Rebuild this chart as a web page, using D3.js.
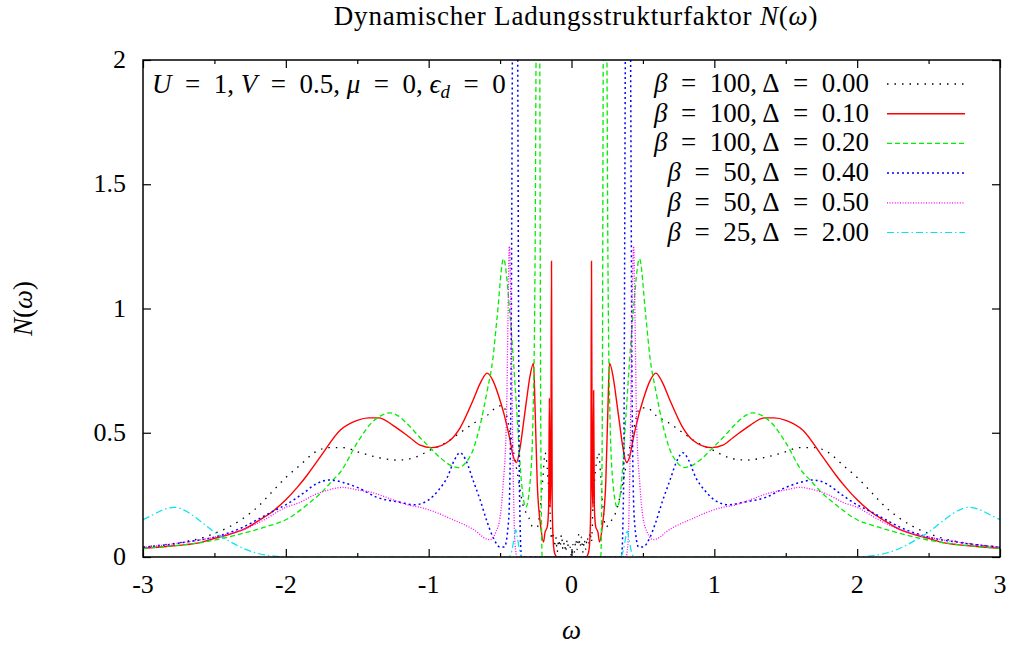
<!DOCTYPE html>
<html lang="en">
<head>
    <meta charset="UTF-8">
    <title>Dynamischer Ladungsstrukturfaktor</title>
    <style>
        body, html {
            margin: 0;
            padding: 0;
            background: #fff;
            overflow: hidden;
        }
    </style>
</head>
<body>
<div id="chart"></div>

<script src="https://cdn.jsdelivr.net/npm/d3@7"></script>
<script>
    // x axis / y axis
    const xDomain = [-3, 3];
    const yDomain = [0, 2];
    const xMajor = [-3, -2, -1, 0, 1, 2, 3];
    const xMinor = [-2.5, -1.5, -0.5, 0.5, 1.5, 2.5];
    const yMajor = [0, 0.5, 1, 1.5, 2];
    const yLabels = ["0", "0.5", "1", "1.5", "2"];

    // legend entries: beta, delta
    const betas = [100, 100, 100, 50, 50, 25];
    const deltas = ["0.00", "0.10", "0.20", "0.40", "0.50", "2.00"];

    // [omega, N(omega)]
    const d000 = [[-3.0,0.04],[-2.9,0.046],[-2.8,0.053],[-2.7,0.062],[-2.6,0.075],[-2.5,0.095],[-2.4,0.12],[-2.3,0.155],[-2.2,0.2],[-2.1,0.26],[-2.0,0.32],[-1.9,0.37],[-1.8,0.42],[-1.7,0.44],[-1.6,0.44],[-1.48,0.42],[-1.35,0.4],[-1.22,0.39],[-1.1,0.4],[-0.99,0.43],[-0.88,0.46],[-0.78,0.5],[-0.68,0.54],[-0.59,0.57],[-0.53,0.6],[-0.48,0.61],[-0.43,0.5],[-0.38,0.34],[-0.34,0.21],[-0.3,0.16],[-0.27,0.12],[-0.24,0.12],[-0.22,0.19],[-0.2,0.32],[-0.185,0.42],[-0.17,0.36],[-0.16,0.28],[-0.15,0.18],[-0.14,0.07],[-0.13,0.1],[-0.12,0.04],[-0.11,0.08],[-0.1,0.02],[-0.09,0.07],[-0.08,0.04],[-0.07,0.09],[-0.06,0.03],[-0.05,0.06],[-0.04,0.02],[-0.03,0.07],[-0.02,0.03],[-0.01,0.04],[0,0],[0.01,0.05],[0.02,0.02],[0.03,0.07],[0.04,0.03],[0.05,0.09],[0.06,0.04],[0.07,0.08],[0.08,0.02],[0.09,0.07],[0.1,0.03],[0.11,0.08],[0.12,0.05],[0.13,0.1],[0.14,0.06],[0.15,0.2],[0.16,0.3],[0.175,0.38],[0.19,0.42],[0.205,0.32],[0.22,0.2],[0.24,0.12],[0.27,0.14],[0.31,0.18],[0.35,0.27],[0.38,0.36],[0.43,0.5],[0.48,0.6],[0.53,0.6],[0.59,0.57],[0.68,0.54],[0.78,0.5],[0.88,0.46],[0.99,0.43],[1.1,0.4],[1.22,0.39],[1.35,0.4],[1.48,0.42],[1.6,0.44],[1.7,0.44],[1.8,0.42],[1.9,0.37],[2.0,0.32],[2.1,0.26],[2.2,0.2],[2.3,0.155],[2.4,0.12],[2.5,0.095],[2.6,0.075],[2.7,0.062],[2.8,0.053],[2.9,0.046],[3.0,0.04]];

    const d010 = [[-3.0,0.035],[-2.9,0.039],[-2.8,0.044],[-2.7,0.05],[-2.6,0.058],[-2.5,0.075],[-2.4,0.09],[-2.3,0.11],[-2.18,0.15],[-2.1,0.18],[-2.0,0.23],[-1.92,0.28],[-1.85,0.33],[-1.75,0.41],[-1.62,0.51],[-1.5,0.55],[-1.42,0.56],[-1.35,0.56],[-1.25,0.53],[-1.13,0.48],[-1.06,0.45],[-0.98,0.44],[-0.85,0.47],[-0.78,0.52],[-0.69,0.63],[-0.63,0.71],[-0.59,0.74],[-0.55,0.71],[-0.5,0.63],[-0.47,0.57],[-0.43,0.47],[-0.41,0.41],[-0.385,0.38],[-0.36,0.44],[-0.336,0.54],[-0.315,0.63],[-0.29,0.73],[-0.266,0.78],[-0.255,0.6],[-0.24,0.3],[-0.215,0.12],[-0.196,0.06],[-0.185,0.1],[-0.17,0.12],[-0.16,0.2],[-0.155,0.64],[-0.15,0.2],[-0.145,0.3],[-0.14,1.19],[-0.135,0.2],[-0.125,0.04],[-0.115,0.01],[-0.1,0],[0,0],[0.1,0],[0.115,0.01],[0.125,0.04],[0.135,0.2],[0.14,1.19],[0.145,0.3],[0.15,0.2],[0.155,0.67],[0.16,0.2],[0.17,0.12],[0.185,0.1],[0.196,0.06],[0.215,0.12],[0.24,0.3],[0.255,0.6],[0.266,0.78],[0.29,0.73],[0.315,0.63],[0.336,0.54],[0.36,0.44],[0.385,0.38],[0.41,0.41],[0.43,0.47],[0.47,0.57],[0.5,0.63],[0.55,0.71],[0.59,0.74],[0.63,0.71],[0.69,0.63],[0.78,0.52],[0.85,0.47],[0.98,0.44],[1.06,0.45],[1.13,0.48],[1.25,0.53],[1.35,0.56],[1.42,0.56],[1.5,0.55],[1.62,0.51],[1.75,0.41],[1.85,0.33],[1.92,0.28],[2.0,0.23],[2.1,0.18],[2.18,0.15],[2.3,0.11],[2.4,0.09],[2.5,0.075],[2.6,0.058],[2.7,0.05],[2.8,0.044],[2.9,0.039],[3.0,0.035]];

    const d020 = [[-3.0,0.035],[-2.85,0.042],[-2.7,0.05],[-2.5,0.068],[-2.3,0.095],[-2.15,0.12],[-2.0,0.15],[-1.83,0.22],[-1.75,0.26],[-1.67,0.31],[-1.62,0.34],[-1.5,0.46],[-1.4,0.54],[-1.33,0.57],[-1.27,0.58],[-1.22,0.57],[-1.14,0.53],[-1.06,0.48],[-0.99,0.44],[-0.92,0.4],[-0.85,0.37],[-0.79,0.36],[-0.74,0.38],[-0.69,0.43],[-0.64,0.53],[-0.59,0.67],[-0.55,0.8],[-0.52,0.97],[-0.476,1.2],[-0.43,0.97],[-0.38,0.56],[-0.35,0.3],[-0.32,0.2],[-0.29,0.3],[-0.27,0.55],[-0.255,1.2],[-0.245,2.4],[-0.235,3.2],[-0.225,2.6],[-0.215,0.5],[-0.205,0],[0,0],[0.205,0],[0.215,0.5],[0.225,2.6],[0.235,3.2],[0.245,2.4],[0.255,1.2],[0.27,0.55],[0.29,0.3],[0.32,0.2],[0.35,0.3],[0.38,0.56],[0.43,0.97],[0.476,1.2],[0.52,0.97],[0.55,0.8],[0.59,0.67],[0.64,0.53],[0.69,0.43],[0.74,0.38],[0.79,0.36],[0.85,0.37],[0.92,0.4],[0.99,0.44],[1.06,0.48],[1.14,0.53],[1.22,0.57],[1.27,0.58],[1.33,0.57],[1.4,0.54],[1.5,0.46],[1.62,0.34],[1.67,0.31],[1.75,0.26],[1.83,0.22],[2.0,0.15],[2.15,0.12],[2.3,0.095],[2.5,0.068],[2.7,0.05],[2.85,0.042],[3.0,0.035]];

    const d040 = [[-3.0,0.04],[-2.85,0.048],[-2.7,0.06],[-2.5,0.08],[-2.3,0.12],[-2.2,0.15],[-2.07,0.19],[-2.0,0.21],[-1.87,0.26],[-1.8,0.29],[-1.69,0.31],[-1.6,0.3],[-1.5,0.28],[-1.36,0.24],[-1.2,0.22],[-1.1,0.21],[-1.0,0.23],[-0.93,0.27],[-0.87,0.32],[-0.82,0.39],[-0.78,0.42],[-0.74,0.39],[-0.69,0.31],[-0.64,0.23],[-0.59,0.14],[-0.55,0.08],[-0.5,0.04],[-0.47,0.04],[-0.44,0.15],[-0.425,0.6],[-0.41,2.5],[-0.395,3.5],[-0.38,2.5],[-0.365,0.3],[-0.35,0],[0,0],[0.35,0],[0.365,0.3],[0.38,2.5],[0.395,3.5],[0.41,2.5],[0.425,0.6],[0.44,0.15],[0.47,0.04],[0.5,0.04],[0.55,0.08],[0.59,0.14],[0.64,0.23],[0.69,0.31],[0.74,0.39],[0.78,0.42],[0.82,0.39],[0.87,0.32],[0.93,0.27],[1.0,0.23],[1.1,0.21],[1.2,0.22],[1.36,0.24],[1.5,0.28],[1.6,0.3],[1.69,0.31],[1.8,0.29],[1.87,0.26],[2.0,0.21],[2.07,0.19],[2.2,0.15],[2.3,0.12],[2.5,0.08],[2.7,0.06],[2.85,0.048],[3.0,0.04]];

    const d050 = [[-3.0,0.04],[-2.85,0.048],[-2.7,0.06],[-2.5,0.08],[-2.3,0.11],[-2.15,0.15],[-2.0,0.2],[-1.9,0.22],[-1.8,0.25],[-1.7,0.27],[-1.6,0.28],[-1.5,0.27],[-1.4,0.26],[-1.25,0.23],[-1.15,0.21],[-1.06,0.2],[-0.95,0.18],[-0.83,0.15],[-0.75,0.13],[-0.66,0.1],[-0.62,0.08],[-0.57,0.07],[-0.53,0.1],[-0.5,0.16],[-0.48,0.28],[-0.455,0.56],[-0.445,0.95],[-0.435,1.25],[-0.425,1.05],[-0.41,0.4],[-0.395,0.05],[-0.38,0],[0,0],[0.38,0],[0.395,0.05],[0.41,0.4],[0.425,1.05],[0.435,1.25],[0.445,0.95],[0.455,0.56],[0.48,0.28],[0.5,0.16],[0.53,0.1],[0.57,0.07],[0.62,0.08],[0.66,0.1],[0.75,0.13],[0.83,0.15],[0.95,0.18],[1.06,0.2],[1.15,0.21],[1.25,0.23],[1.4,0.26],[1.5,0.27],[1.6,0.28],[1.7,0.27],[1.8,0.25],[1.9,0.22],[2.0,0.2],[2.15,0.15],[2.3,0.11],[2.5,0.08],[2.7,0.06],[2.85,0.048],[3.0,0.04]];

    const d200 = [[-3.0,0.15],[-2.93,0.17],[-2.86,0.19],[-2.78,0.2],[-2.7,0.185],[-2.6,0.145],[-2.5,0.1],[-2.4,0.065],[-2.3,0.035],[-2.2,0.015],[-2.1,0.005],[-2.0,0],[-0.44,0],[-0.42,0.02],[-0.4,0.08],[-0.39,0.11],[-0.38,0.08],[-0.36,0.02],[-0.34,0],[0.34,0],[0.36,0.02],[0.38,0.08],[0.39,0.11],[0.4,0.08],[0.42,0.02],[0.44,0],[2.0,0],[2.1,0.005],[2.2,0.015],[2.3,0.035],[2.4,0.065],[2.5,0.1],[2.6,0.145],[2.7,0.185],[2.78,0.2],[2.86,0.19],[2.93,0.17],[3.0,0.15]];

    const seriesData = [d000, d010, d020, d040, d050, d200];
    const colors = ["#000000", "#ff0000", "#00ee00", "#0000ff", "#ff00ff", "#00e5ee"];
    const dashes = ["1.5,6", null, "5,3", "2,3", "1,1.6", "7,3,1.5,3"];
    const widths = [1.3, 1.4, 1.3, 1.5, 1.3, 1.2];

    const serif = "'Liberation Serif', serif";
    const EQ = "\u2002=\u2002";   // wider spacing round "=" like TeX math

    const width = 1014, height = 645;
    const margin = {top: 60, right: 14, bottom: 88, left: 143};
    const plotW = width - margin.left - margin.right;
    const plotH = height - margin.top - margin.bottom;

    const svg = d3.select("#chart").append("svg")
        .attr("width", width)
        .attr("height", height);

    const x = d3.scaleLinear().domain(xDomain).range([margin.left, margin.left + plotW]);
    const y = d3.scaleLinear().domain(yDomain).range([margin.top + plotH, margin.top]);

    svg.append("defs").append("clipPath").attr("id", "clip")
        .append("rect")
        .attr("x", margin.left).attr("y", margin.top)
        .attr("width", plotW).attr("height", plotH);

    // helper: text element in the serif face
    function label(parent, px, py, size) {
        return parent.append("text")
            .attr("x", px).attr("y", py)
            .attr("font-family", serif)
            .attr("font-size", size)
            .attr("fill", "#000");
    }
    function part(t, str, italic) {
        const s = t.append("tspan").attr("font-family", serif).text(str);
        if (italic) s.attr("font-style", "italic");
        return s;
    }

    // ticks pointing inwards on all four sides
    function styleAxis(g) {
        g.select(".domain").remove();
        g.selectAll(".tick line").attr("stroke", "#000").attr("stroke-width", 1.2);
    }
    svg.append("g").attr("transform", `translate(0,${margin.top + plotH})`)
        .call(d3.axisBottom(x).tickValues(xMajor).tickSizeInner(-8).tickSizeOuter(0).tickFormat(""))
        .call(styleAxis);
    svg.append("g").attr("transform", `translate(0,${margin.top + plotH})`)
        .call(d3.axisBottom(x).tickValues(xMinor).tickSizeInner(-4).tickSizeOuter(0).tickFormat(""))
        .call(styleAxis);
    svg.append("g").attr("transform", `translate(0,${margin.top})`)
        .call(d3.axisTop(x).tickValues(xMajor).tickSizeInner(-8).tickSizeOuter(0).tickFormat(""))
        .call(styleAxis);
    svg.append("g").attr("transform", `translate(0,${margin.top})`)
        .call(d3.axisTop(x).tickValues(xMinor).tickSizeInner(-4).tickSizeOuter(0).tickFormat(""))
        .call(styleAxis);
    svg.append("g").attr("transform", `translate(${margin.left},0)`)
        .call(d3.axisLeft(y).tickValues(yMajor).tickSizeInner(-8).tickSizeOuter(0).tickFormat(""))
        .call(styleAxis);
    svg.append("g").attr("transform", `translate(${margin.left + plotW},0)`)
        .call(d3.axisRight(y).tickValues(yMajor).tickSizeInner(-8).tickSizeOuter(0).tickFormat(""))
        .call(styleAxis);

    // tick labels
    const tickG = svg.append("g");
    xMajor.forEach(v => {
        label(tickG, x(v), margin.top + plotH + 36, 26)
            .attr("text-anchor", "middle")
            .text(v);
    });
    yMajor.forEach((v, i) => {
        label(tickG, margin.left - 17, y(v) + 8, 26)
            .attr("text-anchor", "end")
            .text(yLabels[i]);
    });

    // curves
    const line = d3.line()
        .x(d => x(d[0]))
        .y(d => y(d[1]))
        .curve(d3.curveMonotoneX);

    const curves = svg.append("g").attr("clip-path", "url(#clip)");
    seriesData.forEach((data, i) => {
        curves.append("path")
            .datum(data)
            .attr("fill", "none")
            .attr("stroke", colors[i])
            .attr("stroke-width", widths[i])
            .attr("stroke-dasharray", dashes[i])
            .attr("d", line);
    });

    // frame
    svg.append("rect")
        .attr("x", margin.left).attr("y", margin.top)
        .attr("width", plotW).attr("height", plotH)
        .attr("fill", "none")
        .attr("stroke", "#000")
        .attr("stroke-width", 1.5);

    // legend
    const legend = svg.append("g");
    betas.forEach((b, i) => {
        const ly = 92 + i * 29.7;
        const t = label(legend, 869, ly, 27).attr("text-anchor", "end");
        part(t, "β", true);
        part(t, EQ + b + ", Δ" + EQ + deltas[i], false);
        legend.append("line")
            .attr("x1", 887).attr("x2", 965)
            .attr("y1", ly - 8).attr("y2", ly - 8)
            .attr("stroke", colors[i])
            .attr("stroke-width", widths[i])
            .attr("stroke-dasharray", dashes[i]);
    });

    // parameter label
    const par = label(svg, 152, 93, 27);
    part(par, "U", true);
    part(par, EQ + "1, ", false);
    part(par, "V", true);
    part(par, EQ + "0.5, ", false);
    part(par, "μ", true);
    part(par, EQ + "0, ", false);
    part(par, "ϵ", true);
    part(par, "d", true).attr("dy", 5).attr("font-size", 19);
    part(par, EQ + "0", false).attr("dy", -5);

    // title
    const title = label(svg, 576, 25, 27)
        .attr("text-anchor", "middle")
        .attr("letter-spacing", 0.8);
    part(title, "Dynamischer Ladungsstrukturfaktor ", false);
    part(title, "N", true);
    part(title, "(", false);
    part(title, "ω", true);
    part(title, ")", false);

    // axis labels
    label(svg, x(0), 639, 27)
        .attr("text-anchor", "middle")
        .attr("font-style", "italic")
        .text("ω");

    const yl = label(svg, 0, 0, 27)
        .attr("transform", `translate(32,${y(1)}) rotate(-90)`)
        .attr("text-anchor", "middle");
    part(yl, "N", true);
    part(yl, "(", false);
    part(yl, "ω", true);
    part(yl, ")", false);
</script>
</body>
</html>
